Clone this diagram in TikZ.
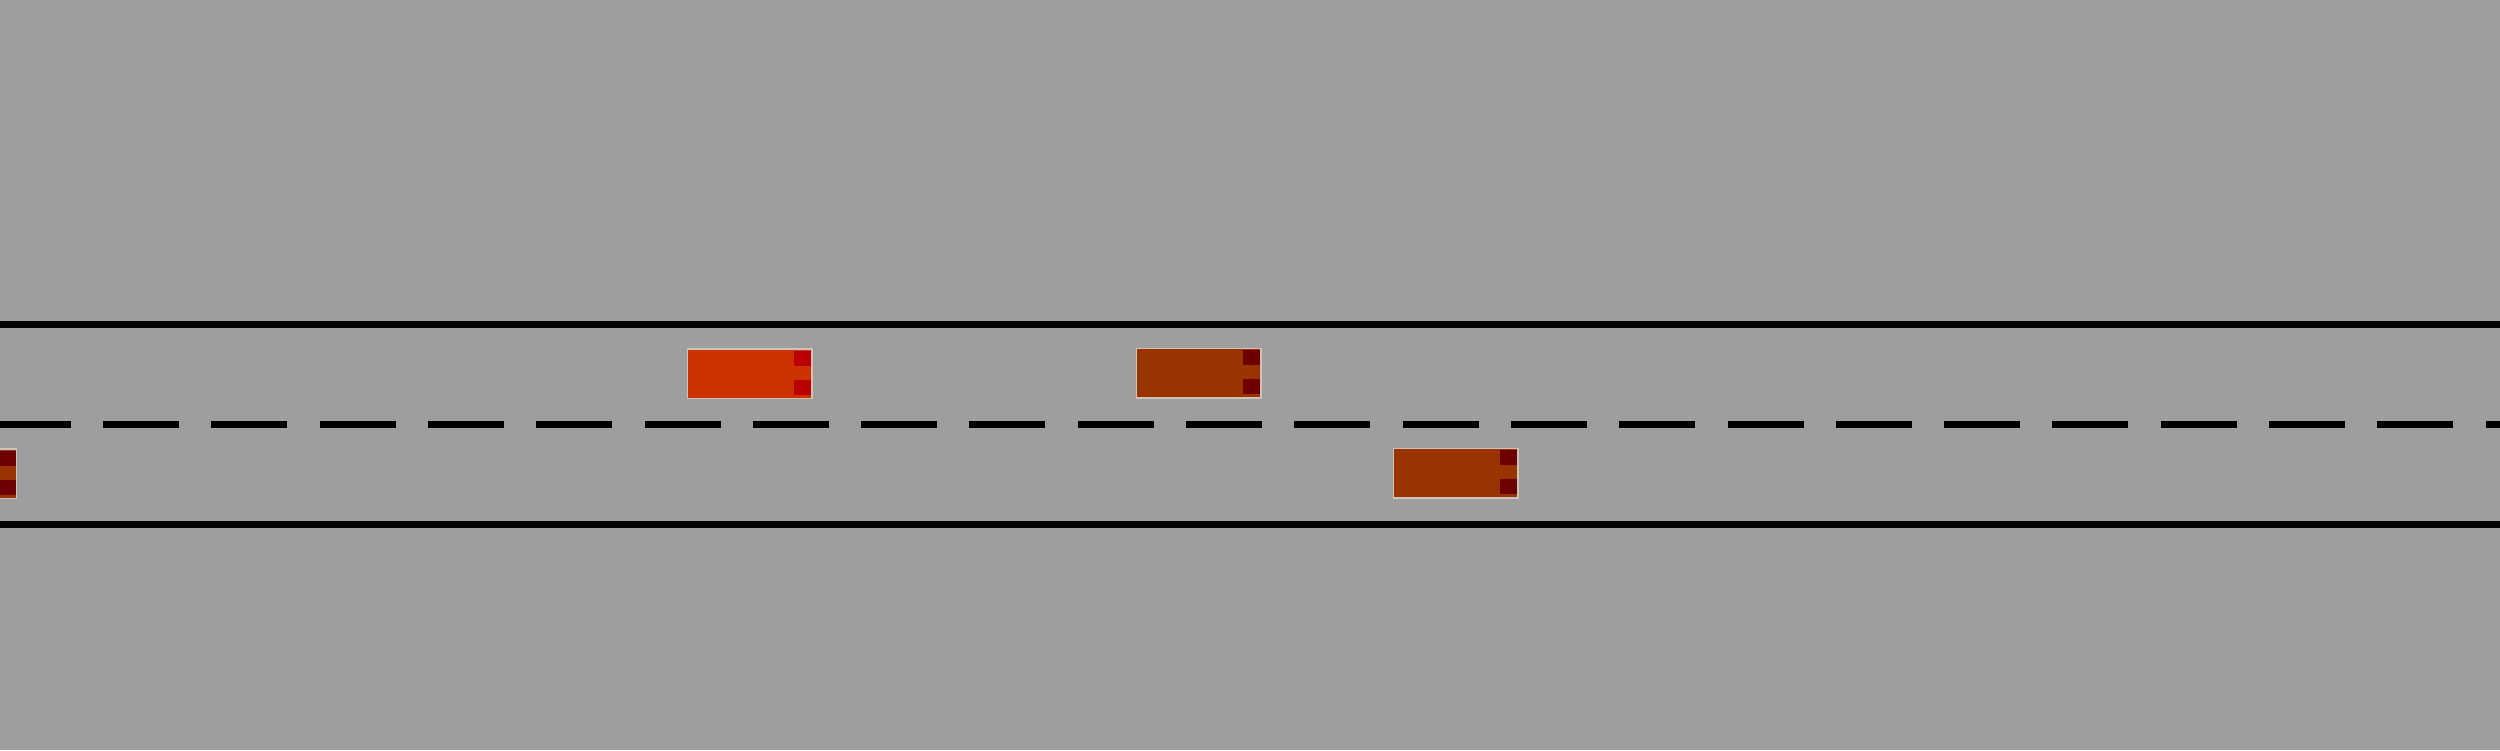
\documentclass[tikz,border=0pt]{standalone}
\definecolor{bg}{RGB}{158,158,158}
\definecolor{redcar}{RGB}{204,51,0}
\definecolor{redlamp}{RGB}{187,0,0}
\definecolor{browncar}{RGB}{153,51,0}
\definecolor{brownlamp}{RGB}{110,0,0}
\definecolor{carrim}{RGB}{205,195,185}
\tikzset{
  roadline/.style={line width=7pt, black},
  laneline/.style={line width=7pt, black, dash pattern=on 76pt off 32.3pt, dash phase=5.3pt},
  carbody/.style={draw=carrim, line width=1.5pt},
}
% #1 x-left, #2 y-top, #3 body colour, #4 lamp colour
\newcommand{\drawcar}[4]{%
  \fill[#3] (#1,#2) rectangle ++(124.5,49.5);
  \fill[#4] ($(#1,#2)+(107,1.7)$) rectangle ++(16.5,15.3);
  \fill[#4] ($(#1,#2)+(107,31)$) rectangle ++(16.5,15);
  \draw[carbody] (#1,#2) rectangle ++(124.5,49.5);
}
\usetikzlibrary{calc}
\begin{document}
\begin{tikzpicture}[x=1pt,y=-1pt]
\useasboundingbox (0,0) rectangle (2500,750);
\fill[bg] (0,0) rectangle (2500,750);
\clip (0,0) rectangle (2500,750);
\coordinate (topL) at (0,324.5);
\coordinate (topR) at (2500,324.5);
\coordinate (midL) at (0,424.5);
\coordinate (midR) at (2500,424.5);
\coordinate (botL) at (0,524.5);
\coordinate (botR) at (2500,524.5);
\draw[roadline] (topL) -- (topR);
\draw[roadline] (botL) -- (botR);
\draw[laneline] (midL) -- (midR);
\drawcar{687.3}{349.2}{redcar}{redlamp}
\drawcar{1136.3}{348.3}{browncar}{brownlamp}
\drawcar{1393.3}{448.3}{browncar}{brownlamp}
\drawcar{-107.8}{449}{browncar}{brownlamp}
\end{tikzpicture}
\end{document}
